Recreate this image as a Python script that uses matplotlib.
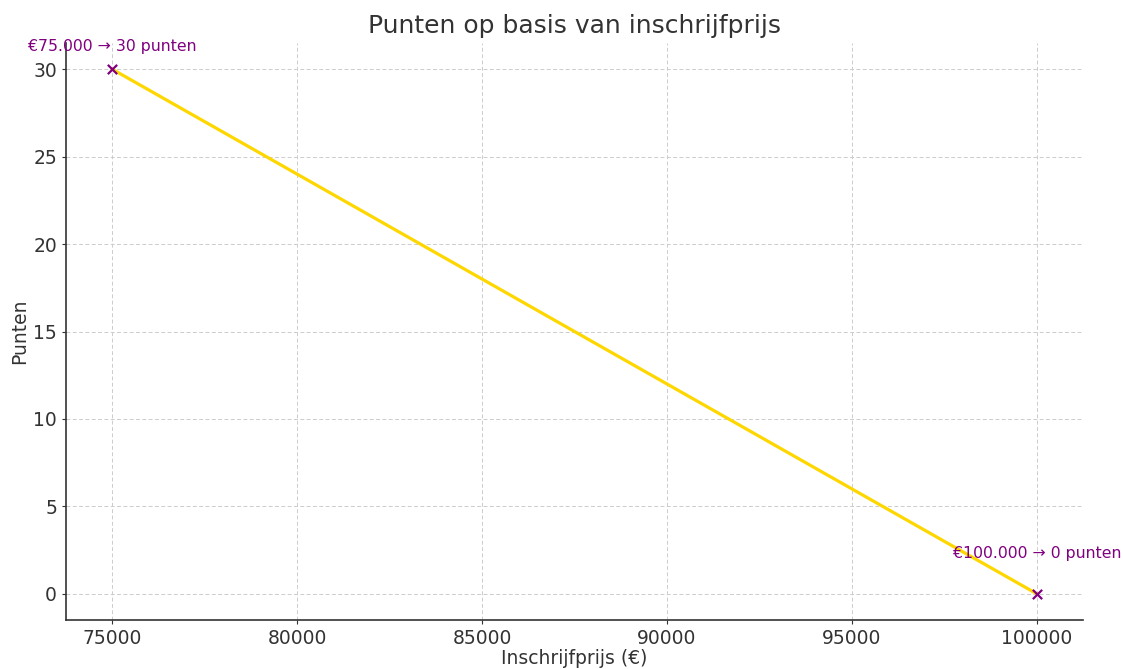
import matplotlib
matplotlib.use("Agg")
import matplotlib.pyplot as plt

prijzen = [75000, 100000]
punten = [30, 0]
labels = ["€75.000 → 30 punten", "€100.000 → 0 punten"]
label_y = [31, 2]

fig = plt.figure(figsize=(11.23, 6.69), dpi=100)
ax = fig.add_axes([0.0588, 0.0732, 0.9056, 0.8625])

ax.plot(prijzen, punten, color="#FFD700", linewidth=2.3, zorder=2)
ax.scatter(prijzen, punten, color="purple", marker="x", s=45, linewidths=1.6, zorder=3)
for x, y, t in zip(prijzen, label_y, labels):
    ax.text(x, y - 0.12, t, color="purple", fontsize=11.3, ha="center", va="bottom")

ax.set_title("Punten op basis van inschrijfprijs", fontsize=18, color="#333333", pad=7)
ax.set_xlabel("Inschrijfprijs (€)", fontsize=13.5, color="#333333", labelpad=1)
ax.set_ylabel("Punten", fontsize=13.5, color="#333333", labelpad=3)
ax.set_xticks([75000, 80000, 85000, 90000, 95000, 100000])
ax.set_yticks([0, 5, 10, 15, 20, 25, 30])
ax.tick_params(labelsize=13.5, colors="#333333", length=3)
ax.grid(True, linestyle=(0, (4, 2.5)), color="#cccccc", linewidth=0.7)
ax.set_axisbelow(True)
for s in ["top", "right"]:
    ax.spines[s].set_visible(False)
for s in ["left", "bottom"]:
    ax.spines[s].set_color("#333333")
    ax.spines[s].set_linewidth(1.2)

fig.savefig("out.png", dpi=100)
